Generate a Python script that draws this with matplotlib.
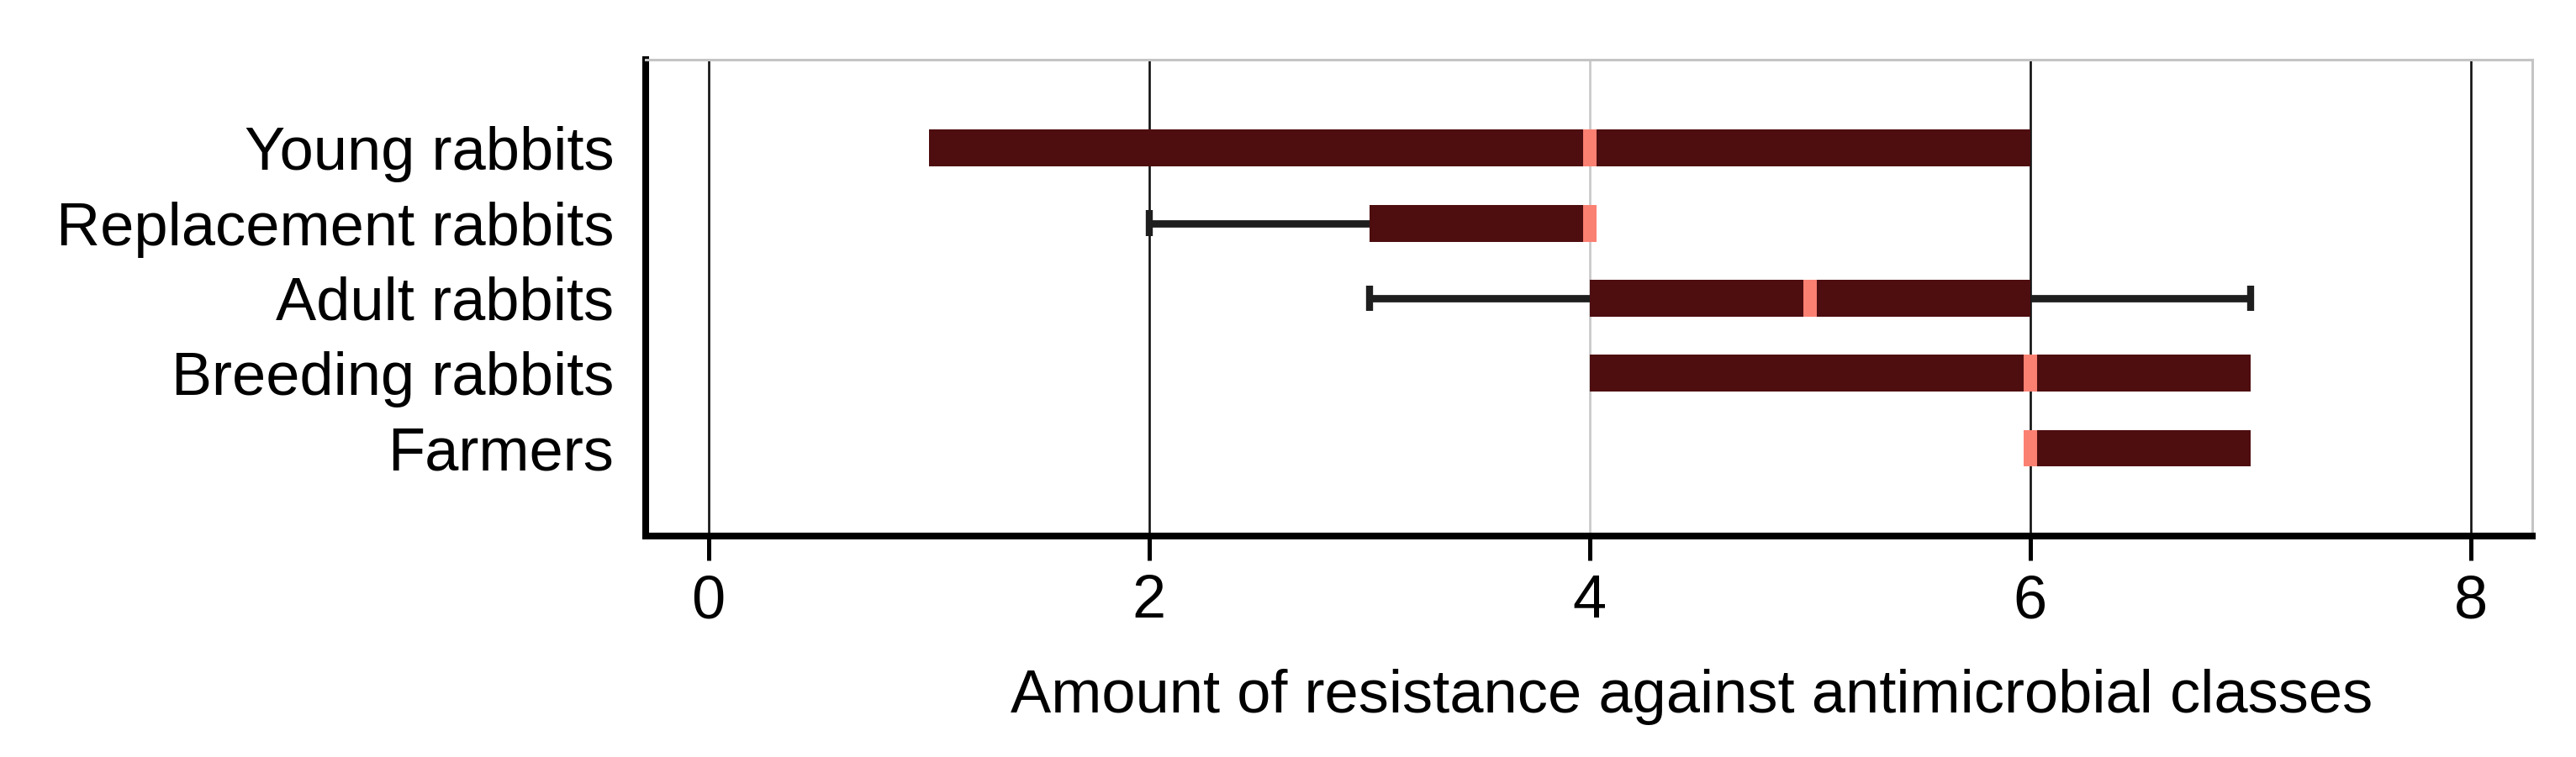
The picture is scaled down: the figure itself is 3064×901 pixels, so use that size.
import matplotlib
matplotlib.use("Agg")
import matplotlib.pyplot as plt

# ---- data ----
groups = ["Young rabbits", "Replacement rabbits", "Adult rabbits", "Breeding rabbits", "Farmers"]
whisker_low = [1, 2, 3, 4, 6]
q1 = [1, 3, 4, 4, 6]
median = [4, 4, 5, 6, 6]
q3 = [6, 4, 6, 7, 7]
whisker_high = [6, 4, 7, 7, 7]
xticks = [0, 2, 4, 6, 8]
xlabel = "Amount of resistance against antimicrobial classes"

box_color = "#4e0d0f"
median_color = "#fa8072"
whisker_color = "#1e1e1e"

plt.rcParams['font.family'] = ['Liberation Sans', 'DejaVu Sans']

W, H, DPI = 3064, 901, 100
fig = plt.figure(figsize=(W / DPI, H / DPI), dpi=DPI)
ax = fig.add_axes([768 / W, 1 - 638 / H, (3012 - 768) / W, (638 - 71) / H])

stats = []
for i, g in enumerate(groups):
    stats.append(dict(label=g, whislo=whisker_low[i], q1=q1[i], med=median[i],
                      q3=q3[i], whishi=whisker_high[i], fliers=[]))

positions = list(range(len(groups)))
art = ax.bxp(stats, positions=positions, widths=0.49, orientation='horizontal',
             patch_artist=True, showfliers=False, capwidths=0.34,
             boxprops=dict(facecolor=box_color, edgecolor=box_color, linewidth=0, zorder=3),
             medianprops=dict(color=median_color, linewidth=11.5, solid_capstyle='butt', zorder=4),
             whiskerprops=dict(color=whisker_color, linewidth=6.3, solid_capstyle='butt', zorder=2),
             capprops=dict(color=whisker_color, linewidth=6.0, solid_capstyle='butt', zorder=2))

# hide caps/whiskers that coincide with the box edges (no whisker beyond box)
for i in range(len(groups)):
    lo_cap, hi_cap = art['caps'][2 * i], art['caps'][2 * i + 1]
    lo_wh, hi_wh = art['whiskers'][2 * i], art['whiskers'][2 * i + 1]
    if whisker_low[i] == q1[i]:
        lo_cap.set_visible(False)
        lo_wh.set_visible(False)
    if whisker_high[i] == q3[i]:
        hi_cap.set_visible(False)
        hi_wh.set_visible(False)

ax.set_xlim(-0.285, 8.28)
ax.set_ylim(len(groups) - 1 + 1.17, -1.18)
ax.set_xticks(xticks)
ax.set_xticklabels([str(t) for t in xticks])
ax.set_yticks(positions)
ax.set_yticklabels(groups)

ax.grid(axis='x', color='#111111', linewidth=1.9, zorder=0)
ax.grid(axis='y', visible=False)
ax.set_axisbelow(True)
gl = ax.xaxis.get_gridlines()
gl[xticks.index(4)].set_color('#c8c8c8')

for s in ['left', 'bottom']:
    ax.spines[s].set_linewidth(5.8)
    ax.spines[s].set_color('black')
for s in ['top', 'right']:
    ax.spines[s].set_linewidth(2.2)
    ax.spines[s].set_color('#c4c4c4')

ax.tick_params(axis='x', length=21, width=3.6, pad=11.5, labelsize=52, color='black')
ax.tick_params(axis='y', length=0, pad=27, labelsize=52)

ax.set_xlabel(xlabel, fontsize=52)
ax.xaxis.set_label_coords(0.5544, (638 - 848) / (638 - 71))
ax.xaxis.label.set_verticalalignment('baseline')

fig.savefig("out.png", dpi=DPI, facecolor='white')
